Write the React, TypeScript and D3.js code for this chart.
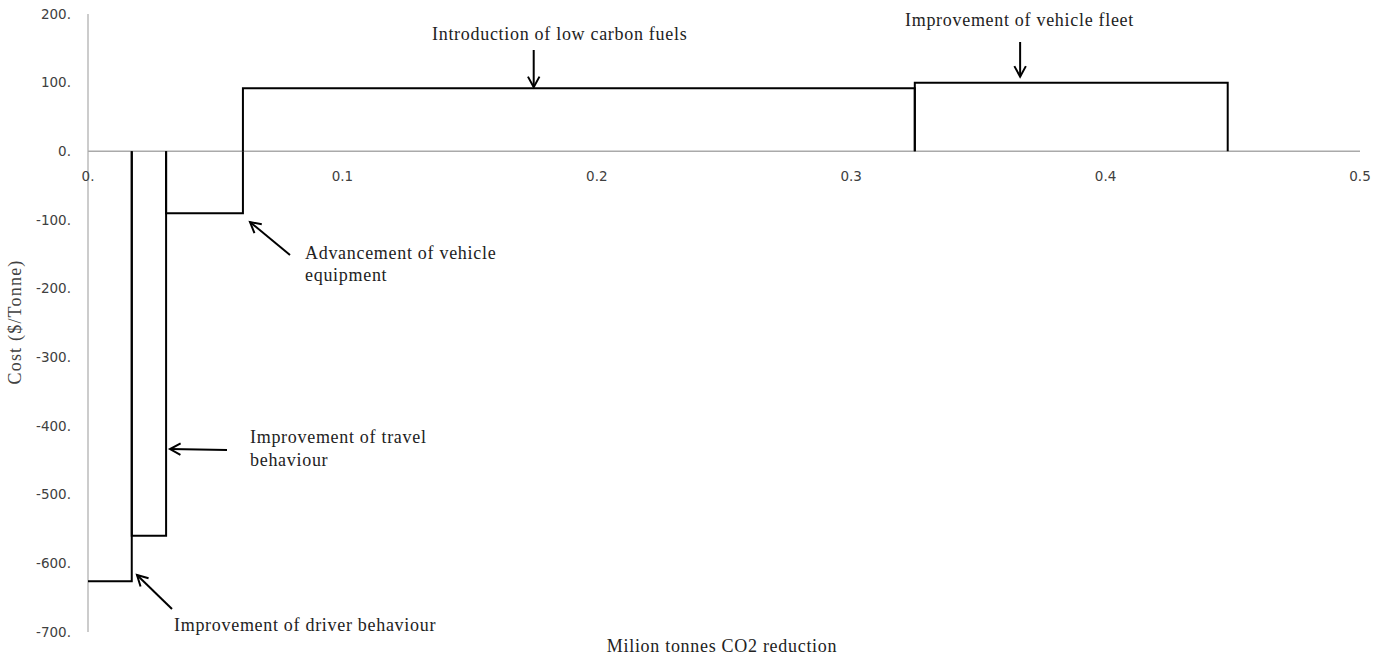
import React from "react";
import * as d3 from "d3";

const measures = [
  "Improvement of driver behaviour",
  "Improvement of travel behaviour",
  "Advancement of vehicle equipment",
  "Introduction of low carbon fuels",
  "Improvement of vehicle fleet",
];
const cumulativeReduction = [0.0172, 0.0307, 0.0609, 0.325, 0.448];
const costs = [-626, -560, -90, 92, 100];
const yTicks = [200, 100, 0, -100, -200, -300, -400, -500, -600, -700];
const xTicks = [0, 0.1, 0.2, 0.3, 0.4, 0.5];
const arrowX = [0.1752, 0.3664];

const W = 1382;
const H = 659;
const serif = "'Liberation Serif', 'DejaVu Serif', serif";
const sans = "'DejaVu Sans', Verdana, sans-serif";

export default function App() {
  const x = d3.scaleLinear().domain([0, 0.5]).range([88, 1360]);
  const y = d3.scaleLinear().domain([-700, 200]).range([632, 14]);

  const bars = costs.map((c, i) => {
    const x0 = i === 0 ? 0 : cumulativeReduction[i - 1];
    const x1 = cumulativeReduction[i];
    const p = d3.path();
    if (x0 > 0) {
      p.moveTo(x(x0), y(0));
      p.lineTo(x(x0), y(c));
    } else {
      p.moveTo(x(x0), y(c));
    }
    p.lineTo(x(x1), y(c));
    p.lineTo(x(x1), y(0));
    return p.toString();
  });

  const arrow = (x1: number, y1: number, x2: number, y2: number, key: string) => {
    const ang = Math.atan2(y2 - y1, x2 - x1);
    const L = 12;
    const spread = 0.5;
    const a1 = ang + Math.PI - spread;
    const a2 = ang + Math.PI + spread;
    return (
      <g key={key} stroke="#000" strokeWidth={2} fill="none">
        <line x1={x1} y1={y1} x2={x2} y2={y2} />
        <polyline
          points={`${x2 + L * Math.cos(a1)},${y2 + L * Math.sin(a1)} ${x2},${y2} ${x2 + L * Math.cos(a2)},${y2 + L * Math.sin(a2)}`}
        />
      </g>
    );
  };

  const fs = 18;
  const ls = 0.7;
  const tcol = "#222";

  return (
    <svg
      width={W}
      height={H}
      style={{ position: "absolute", left: 0, top: 0, background: "#fff" }}
    >
      {/* axes */}
      <line x1={x(0)} x2={x(0)} y1={y(200)} y2={y(-700)} stroke="#999" strokeWidth={1} />
      <line x1={x(0)} x2={x(0.5)} y1={y(0)} y2={y(0)} stroke="#aaa" strokeWidth={1.5} />

      {yTicks.map((t) => (
        <text
          key={"y" + t}
          x={71}
          y={y(t)}
          dy="0.35em"
          textAnchor="end"
          fontFamily={sans}
          fontSize={13.5}
          fill="#404040"
        >
          {t + "."}
        </text>
      ))}
      {xTicks.map((t) => (
        <text
          key={"x" + t}
          x={x(t)}
          y={y(0) + 25}
          dy="0.35em"
          textAnchor="middle"
          fontFamily={sans}
          fontSize={13.5}
          fill="#404040"
        >
          {t === 0 ? "0." : String(t)}
        </text>
      ))}

      <text
        transform={`translate(15,${322}) rotate(-90)`}
        textAnchor="middle"
        dy="0.35em"
        fontFamily={serif}
        fontSize={18}
        letterSpacing={1.2}
        fill="#404040"
      >
        Cost ($/Tonne)
      </text>
      <text
        x={722}
        y={646}
        dy="0.35em"
        textAnchor="middle"
        fontFamily={serif}
        fontSize={fs}
        letterSpacing={ls}
        fill={tcol}
      >
        Milion tonnes CO2 reduction
      </text>

      {bars.map((d, i) => (
        <path key={"b" + i} d={d} fill="none" stroke="#000" strokeWidth={2} />
      ))}

      {/* annotations */}
      <text x={432} y={34} dy="0.35em" fontFamily={serif} fontSize={fs} letterSpacing={ls} fill={tcol}>
        {measures[3]}
      </text>
      {arrow(x(arrowX[0]), 50, x(arrowX[0]), y(costs[3]) - 1, "a3")}

      <text x={905} y={20} dy="0.35em" fontFamily={serif} fontSize={fs} letterSpacing={ls} fill={tcol}>
        {measures[4]}
      </text>
      {arrow(x(arrowX[1]), 42, x(arrowX[1]), y(costs[4]) - 6, "a4")}

      <text x={305} y={253} dy="0.35em" fontFamily={serif} fontSize={fs} letterSpacing={ls} fill={tcol}>
        <tspan x={305}>Advancement of vehicle</tspan>
        <tspan x={305} dy={22}>equipment</tspan>
      </text>
      {arrow(290, 255, 250, 222, "a2")}

      <text x={250} y={437} dy="0.35em" fontFamily={serif} fontSize={fs} letterSpacing={ls} fill={tcol}>
        <tspan x={250}>Improvement of travel</tspan>
        <tspan x={250} dy={23}>behaviour</tspan>
      </text>
      {arrow(227, 450, 170, 449, "a1")}

      <text x={174} y={625} dy="0.35em" fontFamily={serif} fontSize={fs} letterSpacing={ls} fill={tcol}>
        {measures[0]}
      </text>
      {arrow(172, 609, 137, 575, "a0")}
    </svg>
  );
}
